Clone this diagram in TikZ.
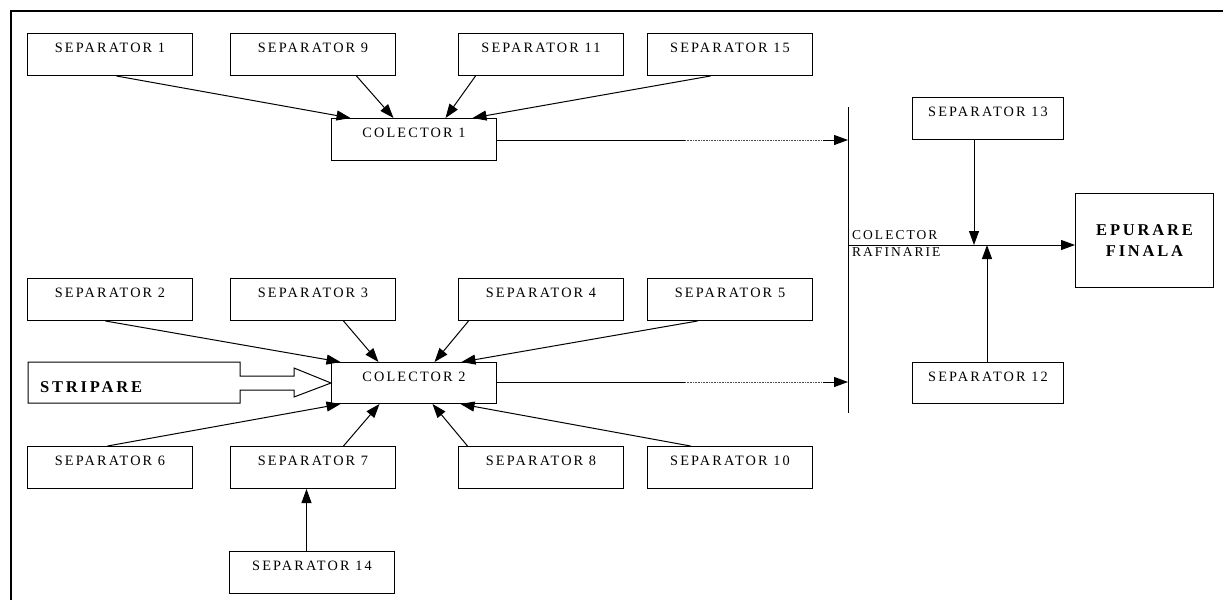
\documentclass[tikz,border=0pt]{standalone}
\usepackage{fontspec}
\setmainfont{Liberation Serif}
\newfontfamily\spfont[LetterSpace=15]{Liberation Serif}
\newfontfamily\spbold[LetterSpace=17]{Liberation Serif Bold}
\usetikzlibrary{arrows.meta,calc}
\begin{document}
\begin{tikzpicture}[x=1pt,y=-1pt,
  box/.style={draw,line width=1pt,anchor=north west,inner xsep=0pt,inner ysep=0pt,
    minimum width=165pt,text height=19pt,text depth=23pt,
    font=\spfont\fontsize{14.3}{16}\selectfont},
  arr/.style={line width=1pt,-{Triangle[length=14pt,width=10pt]}},
  ln/.style={line width=1pt},
  dot/.style={line width=0.6pt,densely dotted,black!70}]
\useasboundingbox (0,0) rectangle (1223,600);
% frame
\draw[line width=2pt] (10,11) -- (1223,11);
\draw[line width=2pt] (11,10) -- (11,600);
% top group
\node[box] (s1) at (27,33) {SEPARATOR 1};
\node[box] (s9) at (230,33) {SEPARATOR 9};
\node[box] (s11) at (458,33) {SEPARATOR 11};
\node[box] (s15) at (647,33) {SEPARATOR 15};
\node[box] (c1) at (331,118) {COLECTOR 1};
\draw[arr] ([xshift=6.5pt]s1.south) -- ([xshift=-63.5pt]c1.north);
\draw[arr] ([xshift=43.5pt]s9.south) -- ([xshift=-20.5pt]c1.north);
\draw[arr] ([xshift=-65.5pt]s11.south) -- ([xshift=31.5pt]c1.north);
\draw[arr] ([xshift=-19.5pt]s15.south) -- ([xshift=58.5pt]c1.north);
% bottom group
\node[box] (s2) at (27,278) {SEPARATOR 2};
\node[box] (s3) at (230,278) {SEPARATOR 3};
\node[box] (s4) at (458,278) {SEPARATOR 4};
\node[box] (s5) at (647,278) {SEPARATOR 5};
\node[box,text depth=22pt] (c2) at (331,362) {COLECTOR 2};
\node[box] (s6) at (27,446) {SEPARATOR 6};
\node[box] (s7) at (230,446) {SEPARATOR 7};
\node[box] (s8) at (458,446) {SEPARATOR 8};
\node[box] (s10) at (647,446) {SEPARATOR 10};
\node[box] (s14) at (229,551) {SEPARATOR 14};
\draw[arr] ([xshift=-4.5pt]s2.south) -- ([xshift=-73.5pt]c2.north);
\draw[arr] ([xshift=30.5pt]s3.south) -- ([xshift=-35.5pt]c2.north);
\draw[arr] ([xshift=-72.5pt]s4.south) -- ([xshift=20.5pt]c2.north);
\draw[arr] ([xshift=-32.5pt]s5.south) -- ([xshift=47.5pt]c2.north);
\draw[arr] ([xshift=-2.5pt]s6.north) -- ([xshift=-73.5pt]c2.south);
\draw[arr] ([xshift=30.5pt]s7.north) -- ([xshift=-34.5pt]c2.south);
\draw[arr] ([xshift=-73.5pt]s8.north) -- ([xshift=18.5pt]c2.south);
\draw[arr] ([xshift=-39.5pt]s10.north) -- ([xshift=46.5pt]c2.south);
\draw[arr] ([xshift=-5.5pt]s14.north) -- ([xshift=-6.5pt]s7.south);
% stripare
\draw[ln] (28,362) -- (240,362) -- (240,376) -- (294,376) -- (294,368) -- (c2.west)
  -- (294,397) -- (294,390) -- (240,390) -- (240,403) -- (28,403) -- cycle;
\node[anchor=west,inner sep=0pt,font=\spbold\fontsize{16.5}{18}\selectfont] (str) at (40,387) {STRIPARE};
% rail
\coordinate (rt) at (848,107);
\coordinate (rb) at (848,413);
\draw[ln] (rt) -- (rb);
\coordinate (d1a) at (685,140);
\coordinate (d1b) at (823,140);
\coordinate (r1) at (848,140);
\draw[ln] (c1.east |- d1a) -- (d1a);
\draw[dot] (d1a) -- (d1b);
\draw[arr] (d1b) -- (r1);
\coordinate (d2a) at (685,382);
\coordinate (d2b) at (823,382);
\coordinate (r2) at (848,382);
\draw[ln] (c2.east |- d2a) -- (d2a);
\draw[dot] (d2a) -- (d2b);
\draw[arr] (d2b) -- (r2);
\node[anchor=north west,inner sep=0pt,align=left,font=\spfont\fontsize{13.5}{17}\selectfont] (lab) at (852,230) {COLECTOR\\RAFINARIE};
% right part
\node[box,minimum width=151pt] (s13) at (912,97) {SEPARATOR 13};
\node[box,minimum width=151pt,text depth=22pt] (s12) at (912,362) {SEPARATOR 12};
\node[draw,line width=1pt,anchor=north west,minimum width=138pt,minimum height=94pt,
  align=center,font=\spbold\fontsize{16.5}{21}\selectfont] (ep) at (1075,193) {EPURARE\\FINALA};
\coordinate (r3) at (848,245);
\coordinate (j13) at (974,245);
\coordinate (j12) at (987,245);
\draw[arr] (r3) -- (r3 -| ep.west);
\draw[arr] (s13.south -| j13) -- (j13);
\draw[arr] (s12.north -| j12) -- (j12);
\end{tikzpicture}
\end{document}
